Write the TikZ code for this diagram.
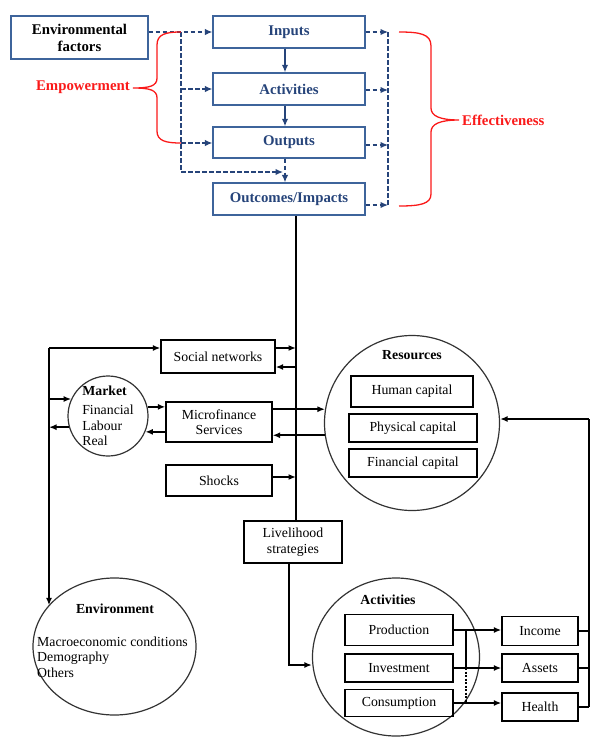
\documentclass[tikz,border=0pt]{standalone}
\usepackage{fontspec}
\setmainfont{Liberation Serif}
\usetikzlibrary{arrows.meta,shapes.geometric}
\definecolor{bbord}{RGB}{62,100,155}
\definecolor{btext}{RGB}{38,68,122}
\definecolor{bred}{RGB}{250,25,25}
\begin{document}
\begin{tikzpicture}[x=1pt,y=-1pt,
  topbox/.style={draw=bbord, line width=1.3pt, font=\fontsize{14.8}{17}\selectfont\bfseries, text=btext, minimum width=152pt, minimum height=32pt, inner sep=0pt, align=center},
  blarrow/.style={draw=btext, line width=1.4pt, -{Latex[length=7.5pt,width=6.5pt]}},
  dsh/.style={draw=btext, line width=1.3pt, dash pattern=on 4.5pt off 2.5pt},
  dsharr/.style={dsh, -{Latex[length=7.5pt,width=6.5pt]}},
  brace/.style={draw=bred, line width=1.3pt},
  redlbl/.style={text=bred, font=\fontsize{14.8}{17}\selectfont\bfseries, inner sep=1pt},
  bbox/.style={draw=black, line width=1.3pt, font=\fontsize{13.8}{15.5}\selectfont, inner sep=0pt, align=center},
  circ/.style={draw=black!80, line width=1.2pt, circle, inner sep=0pt},
  ell/.style={draw=black!80, line width=1.2pt, ellipse, inner sep=0pt},
  btitle/.style={font=\fontsize{13.8}{15.5}\selectfont\bfseries, inner sep=0pt},
  plain/.style={font=\fontsize{13.8}{15.5}\selectfont, inner sep=0pt, align=left},
  line/.style={draw=black, line width=1.6pt},
  arr/.style={line, -{Latex[length=7.5pt,width=6pt]}}
]
\useasboundingbox (0,0) rectangle (590,737);

% ---------- top part ----------
\node[topbox, text=black, minimum width=137pt, minimum height=43pt] (envf) at (79.5,37.5) {Environmental\\factors};
\node[topbox] (inputs) at (289,32) {Inputs};
\node[topbox] (activities) at (289,89) {Activities};
\node[topbox, minimum height=31pt] (outputs) at (289,142.5) {Outputs};
\node[topbox] (outcomes) at (289,199) {Outcomes/Impacts};

\draw[blarrow] ([xshift=-4pt]inputs.south) -- ([xshift=-4pt]activities.north);
\draw[blarrow] ([xshift=-4pt]activities.south) -- ([xshift=-4pt]outputs.north);
\draw[dsharr] ([xshift=-4pt]outputs.south) -- ([xshift=-4pt]outcomes.north);

\coordinate (eT) at (181,0);
\coordinate (eB) at (181,172);
\coordinate (eE) at (283,172);
\draw[dsharr] (envf.east |- inputs.west) -- (inputs.west);
\draw[dsh] (eT |- inputs.west) -- (eB);
\draw[dsharr] (eB) -- (eE);
\draw[dsharr] (eT |- activities.west) -- (activities.west);
\draw[dsharr] ([yshift=-0.5pt]eT |- outputs.west) -- ([yshift=-0.5pt]outputs.west);

\coordinate (rT) at (388,0);
\draw[dsharr] (inputs.east) -- (rT |- inputs.east);
\draw[dsharr] ([yshift=-1pt]activities.east) -- ([yshift=-1pt]activities.east -| rT);
\draw[dsharr] ([yshift=-2.5pt]outputs.east) -- ([yshift=-2.5pt]outputs.east -| rT);
\draw[dsharr] ([yshift=-6pt]outcomes.east) -- ([yshift=-6pt]outcomes.east -| rT);
\draw[dsh] (rT |- inputs.east) -- ([yshift=-8pt]rT |- outcomes.east);

% braces
\draw[brace] (181,32) .. controls (166,32) and (157,34) .. (157,45) -- (157,78)
  .. controls (157,86) and (150,88) .. (133,88)
  .. controls (150,88) and (157,90) .. (157,98) -- (157,131)
  .. controls (157,141) and (166,143) .. (181,143);
\node[redlbl, anchor=east] (emp) at (131,87) {Empowerment};

\draw[brace] (399,32) .. controls (420,32) and (431,34) .. (431,46) -- (431,108)
  .. controls (431,116) and (440,120) .. (459,120)
  .. controls (440,120) and (431,124) .. (431,132) -- (431,194)
  .. controls (431,204) and (420,206) .. (399,206);
\node[redlbl, anchor=west] (eff) at (461,120) {Effectiveness};

% ---------- bottom part ----------
\node[bbox, minimum width=114pt, minimum height=33pt] (sn) at (218,356.5) {Social networks};
\node[circ, minimum size=80pt] (mk) at (108,416) {};
\node[plain] (mktxt) at (108,416) {\textbf{Market}\\[4pt]Financial\\Labour\\Real};
\node[bbox, minimum width=106pt, minimum height=40pt] (mf) at (219,422) {Microfinance\\Services};
\node[bbox, minimum width=106pt, minimum height=31pt] (sh) at (219,480.5) {Shocks};

\node[circ, minimum size=175pt] (res) at (412,423) {};
\node[btitle] (restitle) at (412,355) {Resources};
\node[bbox, minimum width=122pt, minimum height=31pt] (hc) at (412,391.5) {Human capital};
\node[bbox, minimum width=128pt, minimum height=28pt] (pc) at (413,428) {Physical capital};
\node[bbox, minimum width=128pt, minimum height=28pt] (fc) at (413,463) {Financial capital};

\node[bbox, minimum width=98pt, minimum height=42pt] (liv) at (293,542) {Livelihood\\strategies};

\node[ell, minimum width=167pt, minimum height=158pt] (act) at (396,657) {};
\node[btitle] (acttitle) at (388,600) {Activities};
\node[bbox, minimum width=108pt, minimum height=31pt] (prod) at (399,630) {Production};
\node[bbox, minimum width=108pt, minimum height=28pt] (inv) at (399,668) {Investment};
\node[bbox, minimum width=108pt, minimum height=27pt] (cons) at (399,703) {Consumption};
\node[bbox, minimum width=76pt, minimum height=29pt] (inc) at (540,631) {Income};
\node[bbox, minimum width=76pt, minimum height=28pt] (ast) at (540,668) {Assets};
\node[bbox, minimum width=76pt, minimum height=28pt] (hl) at (540,707) {Health};

\node[ell, minimum width=163pt, minimum height=137pt] (env) at (114.5,646.5) {};
\node[btitle] (envtitle) at (115,609) {Environment};
\node[plain, anchor=west] (envtxt) at (37,657) {Macroeconomic conditions\\Demography\\Others};

% main vertical line
\coordinate (vm) at (296,0);
\draw[line] (vm |- outcomes.south) -- (vm |- liv.north);
\coordinate (m1) at (296,348);
\coordinate (m2) at (296,367);
\coordinate (m3) at (296,477);
\draw[arr] (sn.east |- m1) -- (m1);
\draw[arr] (m2) -- (sn.east |- m2);
\draw[arr] (sh.east |- m3) -- (m3);

% left line
\coordinate (L1) at (49,348);
\coordinate (L2) at (49,399);
\draw[arr] (L1) -- (sn.west |- L1);
\draw[arr] (L1) -- (L1 |- env.148);
\draw[arr] (L2) -- (L2 -| mk.155);
\draw[arr] (mk.196) -- (L1 |- mk.196);

% market <-> microfinance
\draw[arr] (mk.13) -- (mk.13 -| mf.west);
\draw[arr] (mf.west |- mk.-23) -- (mk.-23);

% microfinance <-> resources
\draw[arr] (mf.east |- res.171) -- (res.171);
\draw[arr] (res.188) -- (res.188 -| mf.east);

% livelihood -> activities
\coordinate (k1) at (289,665);
\draw[arr] (liv.south -| k1) -- (k1) -- (k1 -| act.west);

% activities -> outcomes
\draw[arr] (prod.east) -- (prod.east -| inc.west);
\draw[arr] (inv.east |- ast.west) -- (ast.west);
\draw[arr] (cons.east) -- (cons.east -| hl.west);
\coordinate (j1) at (466,0);
\draw[line, line width=1.2pt] (j1 |- prod.east) -- (j1 |- ast.west);
\draw[line, line width=1.2pt, dash pattern=on 2pt off 1.5pt] (j1 |- ast.west) -- (j1 |- cons.east);

% feedback to resources
\coordinate (R1) at (589,419);
\coordinate (R2) at (589,707);
\draw[arr] (R1) -- (R1 -| res.east);
\draw[line] (R1) -- (R2);
\draw[line] (inc.east) -- (inc.east -| R1);
\draw[line] (ast.east) -- (ast.east -| R1);
\draw[line] (hl.east) -- (R2);
\end{tikzpicture}
\end{document}
